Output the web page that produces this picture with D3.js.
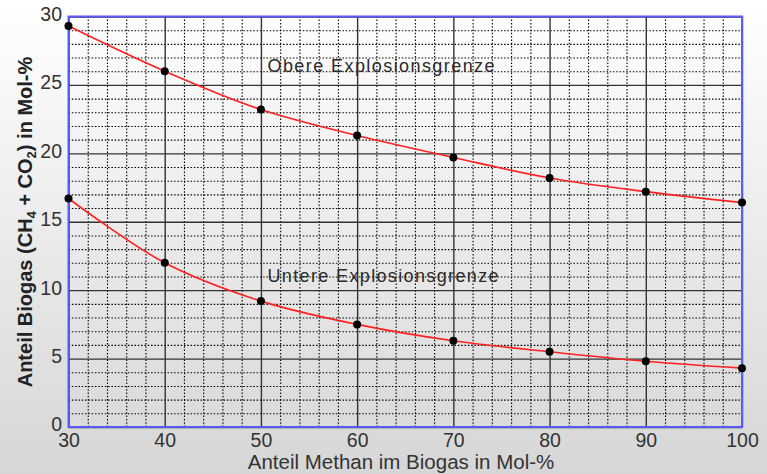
<!DOCTYPE html>
<html>
<head>
<meta charset="utf-8">
<script src="https://cdn.jsdelivr.net/npm/d3@7"></script>
<style>
body { margin: 0; }
svg { display: block; font-family: "Liberation Sans", Arial, sans-serif; }
</style>
</head>
<body>
<script>
// methane share in biogas (x) and explosion limits (y)
var methan = [30, 40, 50, 60, 70, 80, 90, 100];
var obereGrenze = [29.3, 26.0, 23.2, 21.3, 19.7, 18.2, 17.2, 16.4];
var untereGrenze = [16.7, 12.0, 9.2, 7.5, 6.3, 5.5, 4.8, 4.3];
var xTicks = [30, 40, 50, 60, 70, 80, 90, 100];
var yTicks = [0, 5, 10, 15, 20, 25, 30];

var totalW = 767, totalH = 474;
var marginLeft = 68.5, marginTop = 16.5; // plot origin
var width = 673.5, height = 410.5;

var svg = d3.select("body").append("svg")
    .attr("width", totalW)
    .attr("height", totalH);

// grey background, light at the top
var grad = svg.append("defs").append("linearGradient")
    .attr("id", "bg").attr("x1", 0).attr("y1", 0).attr("x2", 0).attr("y2", 1);
grad.append("stop").attr("offset", "0%").attr("stop-color", "#ffffff");
grad.append("stop").attr("offset", "100%").attr("stop-color", "#d6d6d6");
svg.append("rect").attr("width", totalW).attr("height", totalH).attr("fill", "url(#bg)");

var graph = svg.append("g").attr("transform", `translate(${marginLeft}, ${marginTop})`);

var x = d3.scaleLinear().domain([30, 100]).range([0, width]);
var y = d3.scaleLinear().domain([0, 30]).range([height, 0]);

// minor grid (dotted)
graph.append("g").attr("class", "minor")
    .attr("transform", `translate(0, ${height})`)
    .call(d3.axisBottom(x).tickValues(d3.range(32, 100, 2).filter(v => v % 10)).tickSize(-height).tickFormat(""));
graph.append("g").attr("class", "minor")
    .call(d3.axisLeft(y).tickValues(d3.range(1, 30, 1).filter(v => v % 5)).tickSize(-width).tickFormat(""));
graph.selectAll(".minor line")
    .attr("stroke", "#000").attr("stroke-width", 1.1).attr("stroke-dasharray", "1.5,1.8");

// major grid (solid)
graph.append("g").attr("class", "major")
    .attr("transform", `translate(0, ${height})`)
    .call(d3.axisBottom(x).tickValues(xTicks).tickSize(-height).tickFormat(""));
graph.append("g").attr("class", "major")
    .call(d3.axisLeft(y).tickValues(yTicks).tickSize(-width).tickFormat(""));
graph.selectAll(".major line").attr("stroke", "#333").attr("stroke-width", 1.4);
graph.selectAll(".minor .domain, .major .domain").remove();

// tick labels
var xAxis = graph.append("g")
    .attr("transform", `translate(0, ${height})`)
    .call(d3.axisBottom(x).tickValues(xTicks).tickSize(0).tickPadding(6.5));
var yAxis = graph.append("g")
    .call(d3.axisLeft(y).tickValues(yTicks).tickSize(0).tickPadding(6.5));
[xAxis, yAxis].forEach(function(a) {
    a.select(".domain").remove();
    a.selectAll("text")
        .attr("font-size", 19.5)
        .attr("font-family", "Liberation Sans, Arial, sans-serif")
        .attr("fill", "#333");
});
yAxis.selectAll("text").attr("dy", "0.2em");

// blue frame
graph.append("rect")
    .attr("width", width).attr("height", height)
    .attr("fill", "none").attr("stroke", "#5a5aff").attr("stroke-width", 2);

// curves
var line = d3.line()
    .x((d, i) => x(methan[i]))
    .y(d => y(d))
    .curve(d3.curveCatmullRom.alpha(0.5));

[obereGrenze, untereGrenze].forEach(function(series) {
    graph.append("path")
        .datum(series)
        .attr("d", line)
        .attr("fill", "none")
        .attr("stroke", "#ff2020")
        .attr("stroke-width", 1.6);
    graph.selectAll(null).data(series).enter().append("circle")
        .attr("cx", (d, i) => x(methan[i]))
        .attr("cy", d => y(d))
        .attr("r", 4)
        .attr("fill", "#000");
});

// curve labels
graph.append("text")
    .attr("x", 267.5 - marginLeft).attr("y", 71.5 - marginTop)
    .attr("font-size", 18).attr("fill", "#2a2a2a")
    .attr("textLength", 227).attr("lengthAdjust", "spacing")
    .text("Obere Explosionsgrenze");
graph.append("text")
    .attr("x", 267.5 - marginLeft).attr("y", 282 - marginTop)
    .attr("font-size", 18).attr("fill", "#2a2a2a")
    .attr("textLength", 231).attr("lengthAdjust", "spacing")
    .text("Untere Explosionsgrenze");

// axis titles
svg.append("text")
    .attr("x", 401).attr("y", 469)
    .attr("text-anchor", "middle")
    .attr("font-size", 20.5).attr("fill", "#333")
    .text("Anteil Methan im Biogas in Mol-%");

var yTitle = svg.append("text")
    .attr("transform", "translate(32, 222) rotate(-90)")
    .attr("text-anchor", "middle")
    .attr("font-size", 20).attr("font-weight", "bold").attr("fill", "#222");
yTitle.append("tspan").text("Anteil Biogas (CH");
yTitle.append("tspan").attr("font-size", 13).attr("dy", 4).text("4");
yTitle.append("tspan").attr("dy", -4).text(" + CO");
yTitle.append("tspan").attr("font-size", 13).attr("dy", 4).text("2");
yTitle.append("tspan").attr("dy", -4).text(") in Mol-%");
</script>
</body>
</html>
